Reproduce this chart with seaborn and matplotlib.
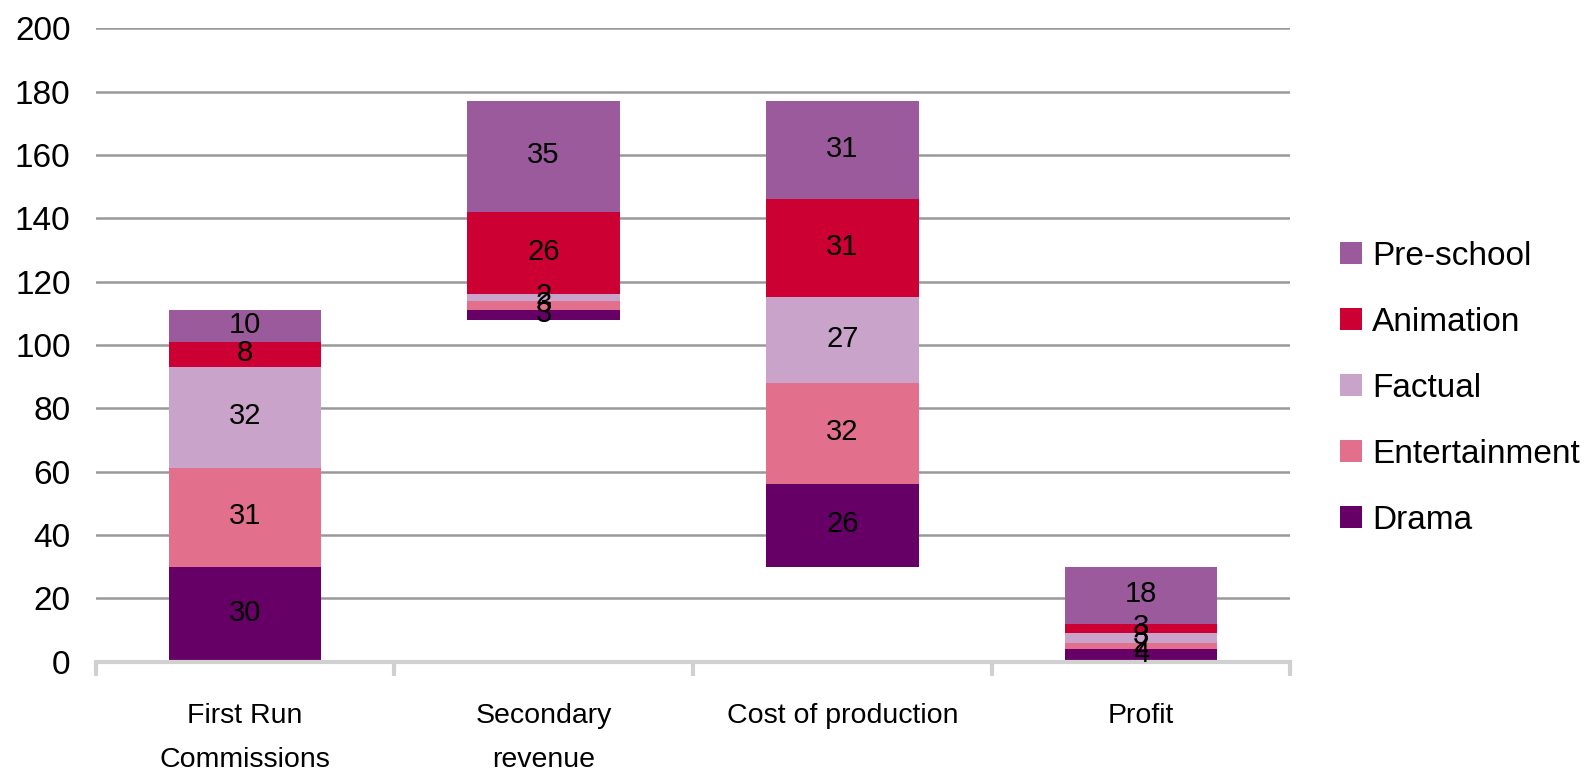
import matplotlib
matplotlib.use("Agg")
import matplotlib.pyplot as plt
from matplotlib.patches import Patch
import numpy as np
import pandas as pd
import seaborn as sns

# Stages of the budget flow and genre breakdown (£m)
stages = ["First Run\nCommissions", "Secondary\nrevenue", "Cost of production", "Profit"]
genres = ["Drama", "Entertainment", "Factual", "Animation", "Pre-school"]

# Floating start of each stage column
base = [0, 108, 30, 0]

drama = [30, 3, 26, 4]
entertainment = [31, 3, 32, 2]
factual = [32, 2, 27, 3]
animation = [8, 26, 31, 3]
preschool = [10, 35, 31, 18]

y_ticks = list(range(0, 201, 20))

genre_colors = {
    "Drama": "#660066",
    "Entertainment": "#E2708D",
    "Factual": "#C9A3C9",
    "Animation": "#CC0033",
    "Pre-school": "#9A5A9B",
}

series = dict(zip(genres, [drama, entertainment, factual, animation, preschool]))
rows = []
for g in genres:
    for s, v in zip(stages, series[g]):
        rows.append({"stage": s, "genre": g, "value": v})
df = pd.DataFrame(rows)

sns.set_theme(style="white")
plt.rcParams["font.family"] = ["Liberation Sans", "DejaVu Sans"]
plt.rcParams["text.color"] = "black"

W, H = 1593, 772
left_px, right_px, zero_px, top_px = 95.5, 1290.5, 661.5, 28.4
fig = plt.figure(figsize=(W / 100, H / 100), dpi=100)
ax = fig.add_axes([left_px / W, 1 - zero_px / H, (right_px - left_px) / W, (zero_px - top_px) / H])

bottom = np.array(base, dtype=float)
for g in genres:
    sub = df[df["genre"] == g].set_index("stage").loc[stages].reset_index()
    sns.barplot(data=sub, x="stage", y="value", order=stages, color=genre_colors[g],
                saturation=1, errorbar=None, width=0.51, bottom=bottom.copy(),
                linewidth=0, ax=ax)
    for i, v in enumerate(sub["value"]):
        ax.text(i, bottom[i] + v / 2 + 0.4, f"{v}", ha="center", va="center",
                fontsize=21, color="black")
    bottom += sub["value"].to_numpy(dtype=float)

ax.set_xlim(-0.5, len(stages) - 0.5)
ax.set_ylim(0, 200)
ax.set_yticks(y_ticks)
ax.set_yticklabels([str(t) for t in y_ticks])
ax.set_axisbelow(True)
ax.yaxis.grid(True, color="#999999", linewidth=1.8)
ax.xaxis.grid(False)

for side in ["left", "right", "top"]:
    ax.spines[side].set_visible(False)
ax.spines["bottom"].set_color("#d0d0d0")
ax.spines["bottom"].set_linewidth(3)

ax.set_xlabel("")
ax.set_ylabel("")
ax.tick_params(axis="y", length=0, pad=18, labelsize=24, labelcolor="black")
ax.tick_params(axis="x", which="major", length=0, pad=30, labelsize=20.5, labelcolor="black")
ax.set_xticks(np.arange(-0.5, len(stages)), minor=True)
ax.tick_params(axis="x", which="minor", bottom=True, length=10, width=3,
               color="#d0d0d0", direction="out")
for lab in ax.get_xticklabels():
    lab.set_linespacing(1.9)

handles = [Patch(facecolor=genre_colors[g], edgecolor="none", label=g) for g in reversed(genres)]
fig.legend(handles=handles, loc="center left", bbox_to_anchor=(1340 / W, 0.497),
           frameon=False, fontsize=24, labelcolor="black", handlelength=0.66,
           handleheight=0.66, handletextpad=0.3, labelspacing=1.05, borderpad=0,
           borderaxespad=0)

fig.savefig("out.png", dpi=100)
